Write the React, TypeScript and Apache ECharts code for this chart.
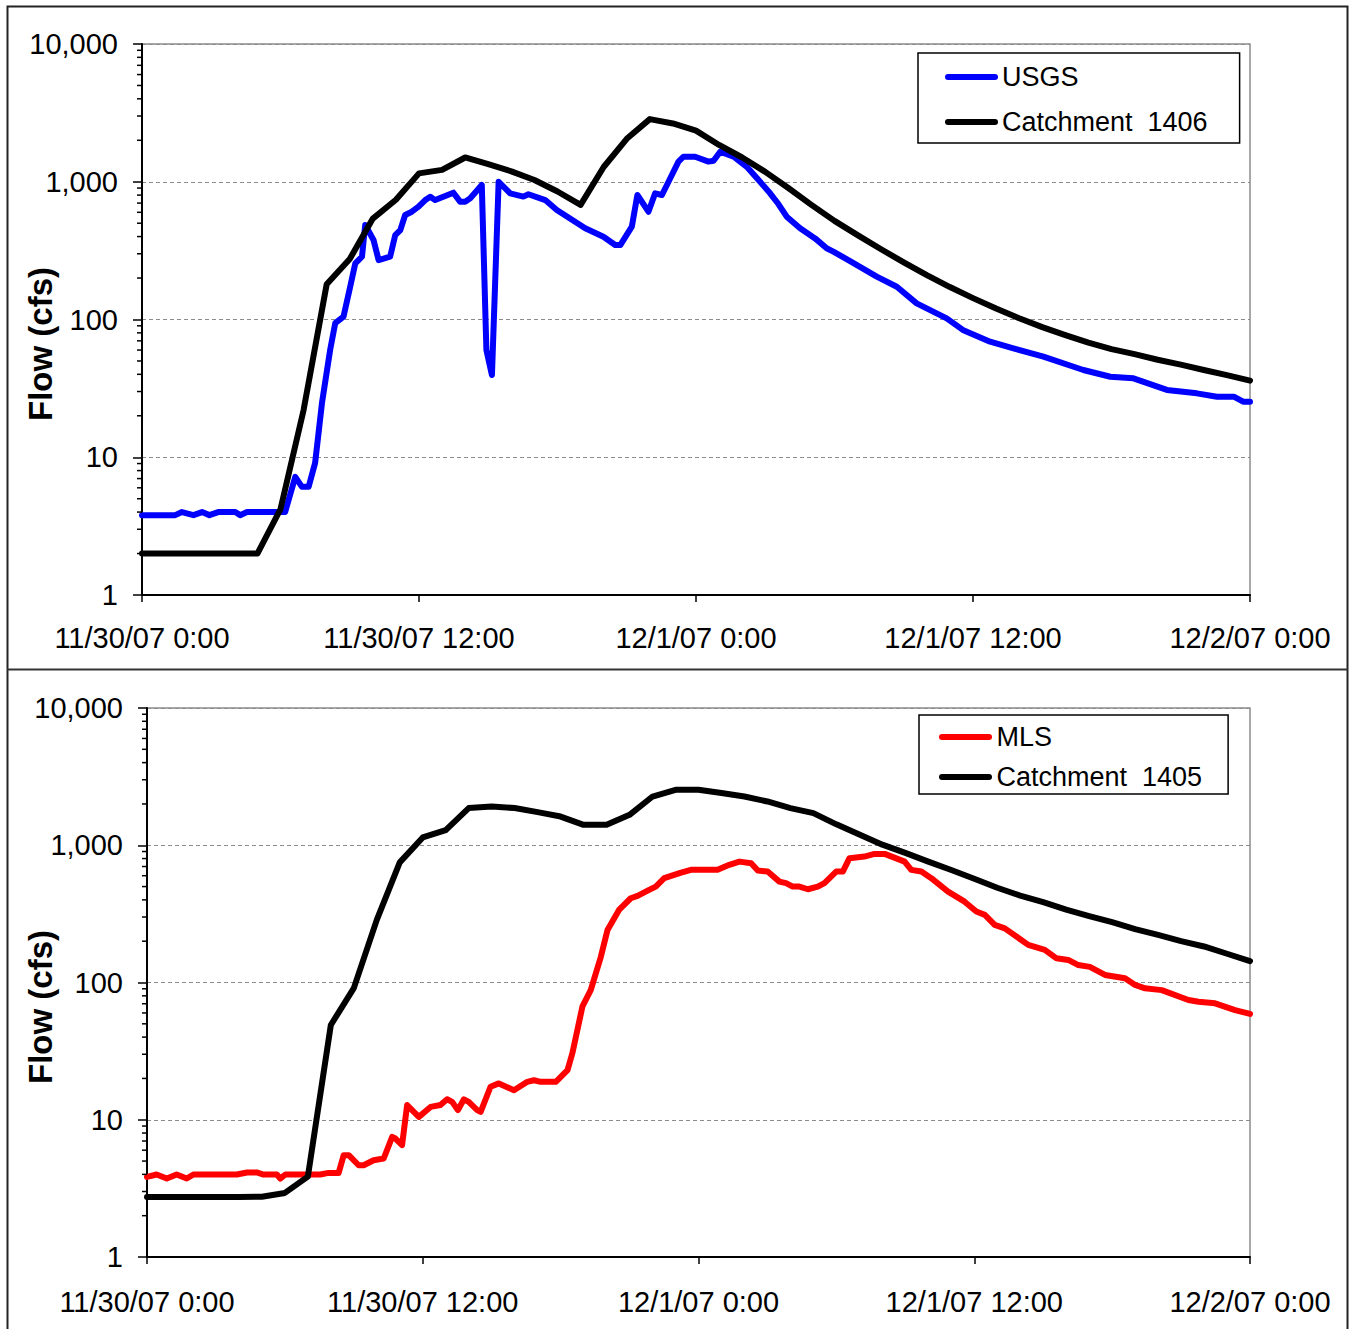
import React, { useEffect, useRef } from "react";
import * as echarts from "echarts";

// ---------- data ----------
const xTickLabels = ["11/30/07 0:00", "11/30/07 12:00", "12/1/07 0:00", "12/1/07 12:00", "12/2/07 0:00"];
const xTickHours = [0, 12, 24, 36, 48];

const modelHours = [
  0, 1, 2, 3, 4, 5, 6, 7, 8, 9, 10, 11, 12, 13, 14, 15, 16, 17, 18, 19, 20, 21, 22, 23, 24,
  25, 26, 27, 28, 29, 30, 31, 32, 33, 34, 35, 36, 37, 38, 39, 40, 41, 42, 43, 44, 45, 46, 47, 48,
];

const catchment1406 = [
  2, 2, 2, 2, 2, 2, 4.2, 22, 180, 275, 540, 740, 1150, 1220, 1500, 1340, 1190, 1030, 850, 680,
  1280, 2050, 2850, 2650, 2350, 1850, 1500, 1180, 900, 680, 520, 410, 325, 260, 210, 172, 143,
  120, 102, 88, 77, 68, 61, 56, 51, 47, 43, 39.5, 36,
];

const usgsHours = [
  0, 1.44, 1.73, 2.23, 2.6, 2.92, 3.3, 4.04, 4.25, 4.55, 6.2, 6.64, 6.93, 7.22, 7.5, 7.8, 8.15,
  8.37, 8.73, 9.02, 9.24, 9.53, 9.67, 10.03, 10.25, 10.75, 10.97, 11.19, 11.4, 11.69, 11.98,
  12.27, 12.49, 12.7, 13.49, 13.78, 14.0, 14.22, 14.72, 14.92, 15.16, 15.45, 15.95, 16.52, 16.74,
  17.47, 17.97, 19.2, 19.99, 20.5, 20.72, 21.22, 21.46, 21.94, 22.23, 22.52, 22.74, 23.24, 23.46,
  23.96, 24.54, 24.76, 25.05, 25.63, 26.2, 26.71, 27.21, 27.57, 27.93, 28.51, 29.16, 29.66,
  29.95, 30.6, 31.83, 32.7, 33.56, 34.86, 35.56, 36.74, 37.75, 39.05, 40.78, 41.95, 42.95, 44.4,
  45.7, 46.57, 47.3, 47.7, 48,
];
const usgsFlow = [
  3.8, 3.8, 4.0, 3.8, 4.0, 3.8, 4.0, 4.0, 3.8, 4.0, 4.0, 7.2, 6.1, 6.1, 9.1, 25, 60, 94, 105, 173,
  256, 286, 485, 378, 270, 286, 410, 446, 574, 606, 659, 736, 779, 736, 833, 717, 717, 758, 947,
  60, 39.5, 1000, 824, 780, 811, 736, 623, 459, 399, 347, 347, 472, 801, 606, 824, 801, 947, 1400,
  1520, 1520, 1400, 1420, 1652, 1520, 1285, 1030, 824, 689, 558, 459, 388, 329, 311, 270, 205,
  173, 131, 102, 84, 69, 61.8, 53.7, 43, 38.4, 37.4, 30.8, 29.1, 27.5, 27.5, 25.3, 25.3,
];

const catchment1405 = [
  2.74, 2.74, 2.74, 2.74, 2.74, 2.75, 2.93, 3.85, 49, 91, 286, 750, 1140, 1290, 1866, 1914, 1866,
  1742, 1618, 1408, 1408, 1667, 2265, 2536, 2536, 2400, 2265, 2084, 1866, 1714, 1420, 1200, 1010,
  880, 760, 660, 570, 490, 430, 385, 340, 305, 275, 245, 222, 200, 183, 162, 143,
];

const mlsHours = [
  0, 0.42, 0.86, 1.29, 1.73, 2.02, 3.91, 4.35, 4.78, 5.07, 5.65, 5.8, 6.02, 7.54, 7.9, 8.34, 8.56,
  8.78, 9.21, 9.43, 9.86, 10.3, 10.67, 10.81, 11.1, 11.32, 11.83, 12.34, 12.77, 13.06, 13.28,
  13.53, 13.79, 14.0, 14.37, 14.52, 14.95, 15.31, 15.97, 16.55, 16.84, 17.13, 17.79, 18.3, 18.51,
  18.95, 19.31, 19.75, 20.04, 20.54, 21.05, 21.35, 21.85, 22.14, 22.51, 23.24, 23.67, 24.83,
  25.34, 25.78, 26.29, 26.58, 27.01, 27.52, 27.81, 28.1, 28.39, 28.76, 29.19, 29.48, 29.99,
  30.28, 30.57, 31.22, 31.66, 32.1, 32.97, 33.26, 33.7, 34.13, 34.86, 35.58, 36.09, 36.46, 36.89,
  37.33, 38.35, 39.07, 39.58, 40.09, 40.53, 41.03, 41.69, 42.56, 43.0, 43.43, 44.16, 45.32,
  45.76, 46.48, 47.35, 48,
];
const mlsFlow = [
  3.83, 3.99, 3.73, 3.99, 3.73, 3.99, 3.99, 4.13, 4.13, 3.99, 3.99, 3.73, 3.99, 3.99, 4.1, 4.1,
  5.52, 5.52, 4.66, 4.66, 5.07, 5.22, 7.5, 7.3, 6.53, 12.8, 10.5, 12.4, 12.8, 14.1, 13.5, 11.75,
  14.1, 13.5, 11.75, 11.4, 17.4, 18.4, 16.4, 18.9, 19.4, 18.9, 18.9, 23, 30.5, 67, 88, 154, 241,
  338, 411, 428, 473, 500, 576, 632, 662, 662, 720, 760, 740, 654, 643, 543, 530, 500, 500, 478,
  500, 530, 643, 643, 805, 827, 865, 865, 760, 662, 643, 576, 459, 388, 329, 311, 263, 248, 188,
  173, 150, 146, 134, 130, 113.5, 107.5, 96, 90.7, 88, 74.5, 72.4, 70.5, 63, 59,
];

const minorTickValues = [
  2, 3, 4, 5, 6, 7, 8, 9, 20, 30, 40, 50, 60, 70, 80, 90, 200, 300, 400, 500, 600, 700, 800, 900,
  2000, 3000, 4000, 5000, 6000, 7000, 8000, 9000,
];

// ---------- helpers ----------
const FONT = 'Arial, "Liberation Sans", sans-serif';
const pairs = (xs: number[], ys: number[]) => xs.map((x, i) => [x, ys[i]]);
const fmtY = (v: number) => String(Math.round(v)).replace(/\B(?=(\d{3})+(?!\d))/g, ",");
const fmtX = (v: number) => {
  const i = xTickHours.indexOf(v);
  return i >= 0 ? xTickLabels[i] : "";
};
const capsule = "path://M3,0L50,0A3,3,0,0,1,50,6L3,6A3,3,0,0,1,3,0Z";

function xAxisCfg(gridIndex: number, margin: number) {
  return {
    type: "value",
    gridIndex,
    min: 0,
    max: 48,
    interval: 12,
    axisLine: { show: true, lineStyle: { color: "#000", width: 2 } },
    axisTick: { show: true, length: 7, lineStyle: { color: "#000", width: 1.5 } },
    splitLine: { show: false },
    axisLabel: {
      formatter: fmtX,
      color: "#000",
      fontFamily: FONT,
      fontSize: 29,
      lineHeight: 29,
      margin,
      showMinLabel: true,
      showMaxLabel: true,
      hideOverlap: false,
    },
  };
}

function yAxisCfg(gridIndex: number) {
  return {
    type: "log",
    logBase: 10,
    gridIndex,
    min: 1,
    max: 10000,
    axisLine: { show: true, onZero: false, lineStyle: { color: "#000", width: 2 } },
    axisTick: { show: true, length: 9, lineStyle: { color: "#000", width: 1.5 } },
    splitLine: { show: true, lineStyle: { color: "#8c8c8c", width: 1, type: [4, 3] } },
    axisLabel: {
      formatter: fmtY,
      color: "#000",
      fontFamily: FONT,
      fontSize: 29,
      lineHeight: 29,
      margin: 24,
    },
  };
}

function minorTickSeries(idx: number) {
  return {
    type: "custom",
    xAxisIndex: idx,
    yAxisIndex: idx,
    clip: false,
    silent: true,
    z: 10,
    data: minorTickValues.map((v) => [0, v]),
    renderItem: (_p: any, api: any) => {
      const p = api.coord([0, api.value(1)]);
      return {
        type: "line",
        shape: { x1: p[0] - 5, y1: p[1], x2: p[0], y2: p[1] },
        style: { stroke: "#000", lineWidth: 1.5 },
      };
    },
  };
}

function lineSeries(name: string, idx: number, data: number[][], color: string) {
  return {
    type: "line",
    name,
    xAxisIndex: idx,
    yAxisIndex: idx,
    data,
    showSymbol: false,
    symbol: "none",
    clip: true,
    itemStyle: { color },
    lineStyle: { color, width: 6, join: "round", cap: "round" },
  };
}

export default function App() {
  const ref = useRef<HTMLDivElement>(null);
  useEffect(() => {
    if (!ref.current) return;
    const chart = echarts.init(ref.current, null, { renderer: "svg" });
    const option: any = {
      animation: false,
      backgroundColor: "#fff",
      grid: [
        { left: 142, top: 44, width: 1108, height: 551, show: true, borderColor: "#8c8c8c", borderWidth: 1.5, backgroundColor: "transparent" },
        { left: 147, top: 708, width: 1103, height: 549, show: true, borderColor: "#8c8c8c", borderWidth: 1.5, backgroundColor: "transparent" },
      ],
      xAxis: [xAxisCfg(0, 28), xAxisCfg(1, 30)],
      yAxis: [yAxisCfg(0), yAxisCfg(1)],
      legend: [
        {
          data: ["USGS", "Catchment  1406"],
          orient: "vertical",
          left: 918,
          top: 53,
          padding: [9, 32, 6, 27],
          itemGap: 15,
          itemWidth: 53,
          itemHeight: 6,
          icon: capsule,
          backgroundColor: "#fff",
          borderColor: "#000",
          borderWidth: 1.5,
          borderRadius: 0,
          selectedMode: false,
          textStyle: { color: "#000", fontFamily: FONT, fontSize: 27, lineHeight: 30, padding: [0, 0, 0, -1] },
        },
        {
          data: ["MLS", "Catchment  1405"],
          orient: "vertical",
          left: 919,
          top: 715,
          padding: [7, 26, 2, 20],
          itemGap: 10,
          itemWidth: 54,
          itemHeight: 6,
          icon: capsule,
          backgroundColor: "#fff",
          borderColor: "#000",
          borderWidth: 1.5,
          borderRadius: 0,
          selectedMode: false,
          textStyle: { color: "#000", fontFamily: FONT, fontSize: 27, lineHeight: 30, padding: [0, 0, 0, -1] },
        },
      ],
      series: [
        lineSeries("USGS", 0, pairs(usgsHours, usgsFlow), "#0000ff"),
        lineSeries("Catchment  1406", 0, pairs(modelHours, catchment1406), "#000000"),
        lineSeries("MLS", 1, pairs(mlsHours, mlsFlow), "#ff0000"),
        lineSeries("Catchment  1405", 1, pairs(modelHours, catchment1405), "#000000"),
        minorTickSeries(0),
        minorTickSeries(1),
      ],
      graphic: [
        {
          type: "rect",
          silent: true,
          z: 100,
          shape: { x: 7.5, y: 6.5, width: 1340, height: 1330 },
          style: { fill: "none", stroke: "#222", lineWidth: 2 },
        },
        {
          type: "line",
          silent: true,
          z: 100,
          shape: { x1: 7, y1: 669.5, x2: 1348, y2: 669.5 },
          style: { stroke: "#333", lineWidth: 2 },
        },
        {
          type: "text",
          x: 40,
          y: 344,
          rotation: Math.PI / 2,
          style: {
            text: "Flow (cfs)",
            fill: "#000",
            font: `bold 33px ${FONT}`,
            align: "center",
            verticalAlign: "middle",
          },
        },
        {
          type: "text",
          x: 40,
          y: 1007,
          rotation: Math.PI / 2,
          style: {
            text: "Flow (cfs)",
            fill: "#000",
            font: `bold 33px ${FONT}`,
            align: "center",
            verticalAlign: "middle",
          },
        },
      ],
    };
    chart.setOption(option);
    return () => chart.dispose();
  }, []);
  return (
    <div
      ref={ref}
      style={{ position: "absolute", left: 0, top: 0, width: 1350, height: 1329, background: "#fff" }}
    />
  );
}
